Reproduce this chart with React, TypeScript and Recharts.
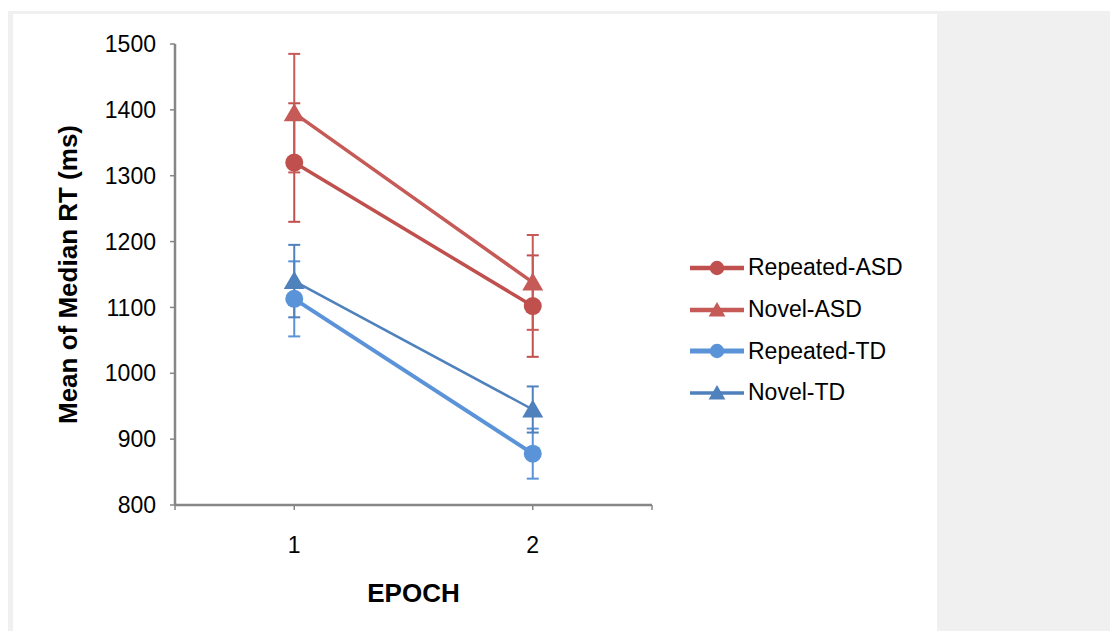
import { ErrorBar, Label, Line, LineChart, XAxis, YAxis } from 'recharts';

const FONT = '"Liberation Sans", Arial, sans-serif';
const AXIS = '#868686';
const FRAME = '#f0f0f0';

// Epoch categories and per-series means / error half-widths (ms)
const EPOCHS = [1, 2];
const REPEATED_ASD = [1320, 1102];
const REPEATED_ASD_ERR = [90, 77];
const NOVEL_ASD = [1395, 1138];
const NOVEL_ASD_ERR = [90, 72];
const REPEATED_TD = [1113, 878];
const REPEATED_TD_ERR = [57, 38];
const NOVEL_TD = [1140, 945];
const NOVEL_TD_ERR = [55, 35];

const Y_TICKS = [800, 900, 1000, 1100, 1200, 1300, 1400, 1500];
const X_TICKS = [0.5, 1, 2, 2.5];

type Shape = 'circle' | 'triangle';

interface Series {
  key: string;
  name: string;
  values: number[];
  errors: number[];
  color: string;
  width: number;
  shape: Shape;
}

const SERIES: Series[] = [
  { key: 'repAsd', name: 'Repeated-ASD', values: REPEATED_ASD, errors: REPEATED_ASD_ERR, color: '#c0504d', width: 3.5, shape: 'circle' },
  { key: 'novAsd', name: 'Novel-ASD', values: NOVEL_ASD, errors: NOVEL_ASD_ERR, color: '#c55a57', width: 3.5, shape: 'triangle' },
  { key: 'repTd', name: 'Repeated-TD', values: REPEATED_TD, errors: REPEATED_TD_ERR, color: '#5a93d8', width: 4, shape: 'circle' },
  { key: 'novTd', name: 'Novel-TD', values: NOVEL_TD, errors: NOVEL_TD_ERR, color: '#4f81bd', width: 2.5, shape: 'triangle' },
];

const rows = EPOCHS.map((epoch, i) => {
  const row: Record<string, number> = { epoch };
  SERIES.forEach((s) => {
    row[s.key] = s.values[i];
    row[`${s.key}Err`] = s.errors[i];
  });
  return row;
});

function Marker({ cx, cy, shape, color, size = 1 }: { cx?: number; cy?: number; shape: Shape; color: string; size?: number }) {
  if (cx == null || cy == null) return null;
  if (shape === 'circle') return <circle cx={cx} cy={cy} r={9 * size} fill={color} />;
  const h = 10 * size;
  const w = 10.5 * size;
  return <polygon points={`${cx},${cy - h} ${cx + w},${cy + h * 0.8} ${cx - w},${cy + h * 0.8}`} fill={color} />;
}

function LegendBox() {
  return (
    <div style={{ position: 'absolute', left: 690, top: 247, fontFamily: FONT, fontSize: 23, color: '#000' }}>
      {SERIES.map((s) => (
        <div key={s.key} style={{ display: 'flex', alignItems: 'center', height: 41.7 }}>
          <svg width={54} height={22} style={{ marginRight: 4 }}>
            <line x1={0} y1={11} x2={54} y2={11} stroke={s.color} strokeWidth={s.width + 1} />
            <Marker cx={27} cy={11} shape={s.shape} color={s.color} size={0.8} />
          </svg>
          <span style={{ whiteSpace: 'nowrap' }}>{s.name}</span>
        </div>
      ))}
    </div>
  );
}

export default function App() {
  return (
    <div style={{ position: 'absolute', left: 0, top: 0, width: 1110, height: 631, background: '#fff', overflow: 'hidden' }}>
      <div style={{ position: 'absolute', left: 8, top: 11, width: 1102, height: 620, background: FRAME }} />
      <div style={{ position: 'absolute', left: 13, top: 14, width: 924, height: 617, background: '#fff' }} />
      <div style={{ position: 'absolute', left: 0, top: 0 }}>
        <LineChart width={937} height={631} data={rows} margin={{ top: 44, right: 285, bottom: 0, left: 13 }}>
          <XAxis
            type="number"
            dataKey="epoch"
            domain={[0.5, 2.5]}
            ticks={X_TICKS}
            interval={0}
            height={126}
            tickSize={5}
            tickMargin={27}
            tickFormatter={(v: number) => (Number.isInteger(v) ? String(v) : '')}
            axisLine={{ stroke: AXIS, strokeWidth: 2.5 }}
            tickLine={{ stroke: AXIS, strokeWidth: 1.5 }}
            tick={{ fill: '#000', fontSize: 23, fontFamily: FONT }}
          >
            <Label
              content={({ viewBox }: any) => (
                <text
                  x={viewBox.x + viewBox.width / 2}
                  y={viewBox.y + 88}
                  textAnchor="middle"
                  dominantBaseline="central"
                  fontFamily={FONT}
                  fontSize={26}
                  fontWeight="bold"
                  fill="#000"
                >
                  EPOCH
                </text>
              )}
            />
          </XAxis>
          <YAxis
            type="number"
            domain={[800, 1500]}
            ticks={Y_TICKS}
            interval={0}
            width={162}
            tickSize={5}
            tickMargin={14}
            axisLine={{ stroke: AXIS, strokeWidth: 2.5 }}
            tickLine={{ stroke: AXIS, strokeWidth: 1.5 }}
            tick={{ fill: '#000', fontSize: 23, fontFamily: FONT }}
          >
            <Label
              content={({ viewBox }: any) => {
                const x = viewBox.x + 55;
                const y = viewBox.y + viewBox.height / 2;
                return (
                  <text
                    x={x}
                    y={y}
                    transform={`rotate(-90 ${x} ${y})`}
                    textAnchor="middle"
                    dominantBaseline="central"
                    fontFamily={FONT}
                    fontSize={26}
                    fontWeight="bold"
                    fill="#000"
                  >
                    Mean of Median RT (ms)
                  </text>
                );
              }}
            />
          </YAxis>
          {SERIES.map((s) => (
            <Line
              key={s.key}
              dataKey={s.key}
              name={s.name}
              stroke={s.color}
              strokeWidth={s.width}
              isAnimationActive={false}
              dot={(p: any) => <Marker key={`${s.key}-${p.index}`} cx={p.cx} cy={p.cy} shape={s.shape} color={s.color} />}
              activeDot={false}
            >
              <ErrorBar dataKey={`${s.key}Err`} direction="y" width={6} strokeWidth={2} stroke={s.color} isAnimationActive={false} />
            </Line>
          ))}
        </LineChart>
      </div>
      <LegendBox />
    </div>
  );
}
